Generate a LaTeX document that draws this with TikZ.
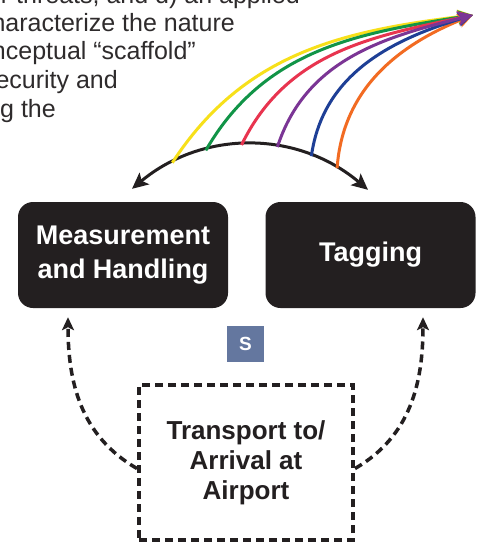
\documentclass[tikz,border=0pt]{standalone}
\usepackage{fontspec}
\setmainfont{Liberation Sans}
\usetikzlibrary{arrows.meta,calc}
\definecolor{txtgray}{HTML}{2E2B2C}
\definecolor{boxblack}{HTML}{231F20}
\definecolor{sblue}{HTML}{64779F}
\definecolor{cyellow}{HTML}{F7E01A}
\definecolor{cgreen}{HTML}{119447}
\definecolor{cred}{HTML}{E8344F}
\definecolor{cpurple}{HTML}{7B3595}
\definecolor{cblue}{HTML}{1E3F96}
\definecolor{corange}{HTML}{F26B22}
\tikzset{
  bodytext/.style={anchor=base east, inner sep=0pt, text=txtgray, font=\fontsize{25}{28.7}\selectfont},
  stagebox/.style={fill=boxblack, rounded corners=15pt, minimum width=210pt, minimum height=106pt,
    text=white, font=\bfseries\fontsize{27}{34}\selectfont, align=center, inner sep=0pt},
  dashbox/.style={draw=boxblack, line width=4pt, dash pattern=on 8pt off 5pt, minimum width=214pt,
    minimum height=155pt, font=\bfseries\fontsize{26}{30}\selectfont, align=center, text=boxblack, inner sep=0pt},
  sbox/.style={fill=sblue, minimum width=37pt, minimum height=36pt, inner sep=0pt, text=white,
    font=\bfseries\fontsize{19}{19}\selectfont},
  blackarc/.style={draw=boxblack, line width=3pt, {Stealth[length=16pt,width=15pt,inset=3.5pt]}-{Stealth[length=16pt,width=15pt,inset=3.5pt]}},
  rain/.style={line width=3pt, -{Stealth[length=15pt,width=14pt,inset=3pt]}},
  dasharrow/.style={draw=boxblack, line width=3.5pt, dash pattern=on 8pt off 5pt, -{Stealth[length=13pt,width=12pt,inset=3pt]}}
}
\begin{document}
\begin{tikzpicture}[x=1pt,y=1pt]
\useasboundingbox (0,0) rectangle (480,-544);
\fill[white] (0,0) rectangle (480,-544);
% body text (cropped paragraph)
\node[bodytext] (l1) at (300,-3) {or threats, and d) an applied};
\node[bodytext] (l2) at (235,-31) {characterize the nature};
\node[bodytext] (l3) at (196,-59.7) {conceptual “scaffold”};
\node[bodytext] (l4) at (118,-88.4) {security and};
\node[bodytext] (l5) at (56,-117.1) {during the};
% boxes
\node[stagebox] (m) at (123,-255) {Measurement\\and Handling};
\node[stagebox] (t) at (370.5,-255) {Tagging};
\node[sbox] (s) at (245.5,-344) {S};
\node[dashbox] (tr) at (246,-462.5) {Transport to/\\Arrival at\\Airport};
% black arc
\coordinate (a1) at ([xshift=9pt,yshift=13pt]m.north);
\coordinate (a2) at ([xshift=-2.5pt,yshift=12pt]t.north);
\coordinate (tip) at (473,-15);
\draw[blackarc] (a1) to[bend left=40]
  coordinate[pos=0.18] (c1) coordinate[pos=0.32] (c2) coordinate[pos=0.465] (c3)
  coordinate[pos=0.61] (c4) coordinate[pos=0.75] (c5) coordinate[pos=0.86] (c6) (a2);
% rainbow arrows
\draw[rain, cyellow] (c1) to[out=57,in=187] (tip);
\draw[rain, cgreen] (c2) to[out=60,in=189] (tip);
\draw[rain, cred] (c3) to[out=64,in=192] (tip);
\draw[rain, corange] (c6) to[out=86,in=202] (tip);
\draw[rain, cblue] (c5) to[out=82,in=197] (tip);
\draw[rain, cpurple] (c4) to[out=72,in=194] (tip);
% dashed arrows
\draw[dasharrow] ([yshift=-6pt]tr.west) to[out=150,in=-90] ([xshift=-55pt,yshift=-9pt]m.south);
\draw[dasharrow] ([yshift=-6pt]tr.east) to[out=30,in=-90] ([xshift=52.5pt,yshift=-9pt]t.south);
\end{tikzpicture}
\end{document}
